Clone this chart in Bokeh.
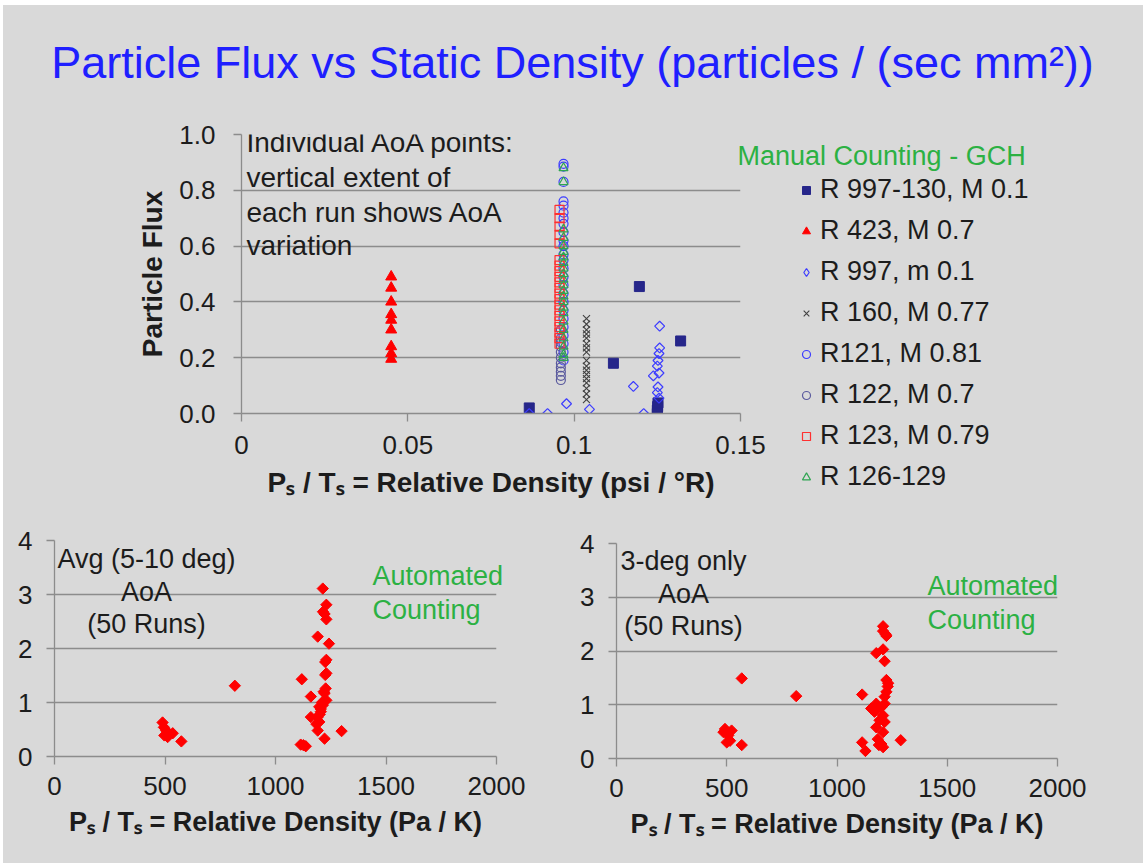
import math

from bokeh.embed import file_html
from bokeh.layouts import column, row
from bokeh.models import FixedTicker, Label, Legend, LegendItem, PrintfTickFormatter, Range1d
from bokeh.plotting import figure
from bokeh.resources import INLINE

# ---------------------------------------------------------------- styling
BG = "#d9d9d9"
GRID = "#8c8c8c"
INK = "#1c1c1c"
GREEN = "#2cb143"
TITLE_BLUE = "#1f1fff"
FONT = "Liberation Sans"

# ---------------------------------------------------------------- manual counting (psi / °R)
r997_130_x = [0.0865, 0.1118, 0.1196, 0.1320, 0.1250, 0.1250, 0.1251, 0.1252]
r997_130_y = [0.020, 0.180, 0.455, 0.260, 0.000, 0.012, 0.025, 0.038]

r423_x = [0.045, 0.045, 0.045, 0.045, 0.045, 0.045, 0.045, 0.045, 0.045]
r423_y = [0.49, 0.45, 0.40, 0.355, 0.335, 0.30, 0.24, 0.215, 0.195]

r997_x = [0.0865, 0.0920, 0.0977, 0.1046, 0.1178, 0.1209, 0.1257, 0.1257,
          0.1255, 0.1252, 0.1250, 0.1238, 0.1255, 0.1252, 0.1250, 0.1255]
r997_y = [0.000, 0.000, 0.035, 0.015, 0.097, 0.000, 0.313, 0.235,
          0.215, 0.190, 0.170, 0.135, 0.145, 0.095, 0.075, 0.055]

r160_x = [0.1037] * 17
r160_y = [0.34, 0.32, 0.30, 0.285, 0.27, 0.25, 0.235, 0.22, 0.19,
          0.17, 0.155, 0.14, 0.125, 0.11, 0.09, 0.07, 0.05]

r121_x = [0.0968] * 25
r121_y = [0.895, 0.885, 0.83, 0.76, 0.745, 0.72, 0.70, 0.68, 0.65, 0.62,
          0.60, 0.57, 0.55, 0.52, 0.49, 0.46, 0.43, 0.40, 0.37, 0.34,
          0.31, 0.28, 0.25, 0.22, 0.19]

r122_x = [0.0960] * 11
r122_y = [0.30, 0.27, 0.255, 0.24, 0.22, 0.20, 0.18, 0.165, 0.15, 0.135, 0.12]

r123_x = [0.0956] * 21
r123_y = [0.73, 0.70, 0.67, 0.64, 0.61, 0.55, 0.53, 0.51, 0.49, 0.47, 0.45,
          0.43, 0.41, 0.39, 0.37, 0.35, 0.33, 0.31, 0.29, 0.27, 0.25]

r126_129_x = [0.0968] * 23
r126_129_y = [0.88, 0.83, 0.66, 0.63, 0.60, 0.58, 0.56, 0.54, 0.52, 0.50, 0.48,
              0.46, 0.44, 0.42, 0.40, 0.38, 0.36, 0.33, 0.30, 0.27, 0.24, 0.21, 0.20]

series_labels = ["R 997-130, M 0.1", "R 423, M 0.7", "R 997, m 0.1", "R 160, M 0.77",
                 "R121, M 0.81", "R 122, M 0.7", "R 123, M 0.79", "R 126-129"]

top_x_ticks = [0, 0.05, 0.1, 0.15]
top_x_labels = ["0", "0.05", "0.1", "0.15"]
top_y_ticks = [0, 0.2, 0.4, 0.6, 0.8, 1.0]

# ---------------------------------------------------------------- automated counting (Pa / K)
avg_x = [1214, 1230, 1222, 1230, 1191, 1242, 1230, 1230, 1225, 1119, 816, 1227,
         1222, 1160, 1230, 1214, 1198, 1205, 1191, 1160, 1198, 1191, 1299, 1222,
         1114, 1137, 1210, 1218, 1205, 1185, 1225, 1215, 1200, 1126,
         489, 495, 505, 520, 512, 497, 535, 574]
avg_y = [3.11, 2.81, 2.64, 2.54, 2.22, 2.09, 1.79, 1.54, 1.51, 1.43, 1.31, 1.26,
         1.17, 1.11, 1.04, 0.95, 0.92, 0.83, 0.73, 0.73, 0.64, 0.48, 0.47, 0.33,
         0.22, 0.19, 1.00, 1.20, 0.88, 0.60, 1.75, 2.68, 0.78, 0.21,
         0.63, 0.54, 0.48, 0.42, 0.36, 0.39, 0.43, 0.28]

deg3_x = [1209, 1209, 1221, 1224, 1209, 1178, 1216, 1224, 1230, 1224, 1216, 1114,
          815, 568, 1216, 1178, 1155, 1170, 1209, 1193, 1216, 1178, 1209, 1185,
          1289, 1201, 1209, 1114, 1129, 1200, 1232, 1190,
          492, 522, 507, 515, 500, 568, 485]
deg3_y = [2.46, 2.37, 2.31, 2.28, 2.03, 1.96, 1.81, 1.46, 1.34, 1.24, 1.15, 1.19,
          1.16, 1.49, 1.02, 1.02, 0.93, 0.87, 0.80, 0.71, 0.68, 0.58, 0.49, 0.36,
          0.34, 0.27, 0.21, 0.30, 0.14, 0.95, 1.40, 0.25,
          0.55, 0.52, 0.43, 0.33, 0.30, 0.25, 0.49]

bottom_x_ticks = [0, 500, 1000, 1500, 2000]
bottom_y_ticks = [0, 1, 2, 3, 4]

DIAMOND = math.pi / 4

# marker styles for the eight manually counted runs
series_styles = [
    dict(marker="square", size=10, fill_color="#26268a", line_color="#26268a"),
    dict(marker="triangle", size=11, fill_color="#ff0000", line_color="#ff0000"),
    dict(marker="square", angle=DIAMOND, size=7, fill_color=None, line_color="#3c3cff", line_width=1.2),
    dict(marker="x", size=10, line_color="#404040", line_width=1.1),
    dict(marker="circle", size=9, fill_color=None, line_color="#3c3cff", line_width=1.2),
    dict(marker="circle", size=9, fill_color=None, line_color="#5a5a9e", line_width=1.2),
    dict(marker="square", size=9, fill_color=None, line_color="#ff3030", line_width=1.2),
    dict(marker="triangle", size=9, fill_color=None, line_color="#2fa552", line_width=1.2),
]
# legend swatches ignore the marker angle, so the open diamond uses the diamond marker there
swatch_styles = [dict(st) for st in series_styles]
swatch_styles[2] = dict(marker="diamond", size=9, fill_color=None, line_color="#3c3cff", line_width=1.2)


def style_axes(p, tick_font, label_font, x_stand, y_stand, x_label_stand, y_label_stand):
    for ax in (p.xaxis[0], p.yaxis[0]):
        ax.axis_line_color = GRID
        ax.axis_line_width = 1.3
        ax.major_tick_line_color = GRID
        ax.major_tick_line_width = 1.3
        ax.minor_tick_line_color = None
        ax.major_tick_in = 0
        ax.major_tick_out = 8
        ax.major_label_text_font = FONT
        ax.major_label_text_font_size = tick_font
        ax.major_label_text_color = INK
        ax.axis_label_text_font = FONT
        ax.axis_label_text_font_size = label_font
        ax.axis_label_text_font_style = "bold"
        ax.axis_label_text_color = INK
    p.xaxis[0].major_label_standoff = x_stand
    p.yaxis[0].major_label_standoff = y_stand
    p.xaxis[0].axis_label_standoff = x_label_stand
    p.yaxis[0].axis_label_standoff = y_label_stand
    p.xgrid.visible = False
    p.ygrid.grid_line_color = GRID
    p.ygrid.grid_line_width = 1.3


def text(p, x, y, s, size, color=INK, align="left", style="normal"):
    p.add_layout(Label(x=x, y=y, text=s, text_font=FONT, text_font_size=size,
                       text_color=color, text_align=align, text_baseline="middle",
                       text_font_style=style))


# ---------------------------------------------------------------- top panel
top = figure(width=1140, height=515, x_range=Range1d(0, 0.15), y_range=Range1d(0, 1.0),
             output_backend="svg", toolbar_location=None,
             min_border_left=238, min_border_right=403, min_border_top=129,
             min_border_bottom=107, background_fill_color=BG, border_fill_color=BG,
             outline_line_color=None, frame_align=False)
top.xaxis.ticker = FixedTicker(ticks=top_x_ticks)
top.xaxis.major_label_overrides = dict(zip(top_x_ticks, top_x_labels))
top.yaxis.ticker = FixedTicker(ticks=top_y_ticks)
top.ygrid.ticker = FixedTicker(ticks=top_y_ticks)
top.yaxis.formatter = PrintfTickFormatter(format="%.1f")
top.xaxis.axis_label = "Pₛ / Tₛ = Relative Density (psi / °R)"
top.yaxis.axis_label = "Particle Flux"
style_axes(top, "26px", "28px", 14, 18, 10, 8)

series_xy = [(r997_130_x, r997_130_y), (r423_x, r423_y), (r997_x, r997_y), (r160_x, r160_y),
             (r121_x, r121_y), (r122_x, r122_y), (r123_x, r123_y), (r126_129_x, r126_129_y)]
for (xs, ys), st in zip(series_xy, series_styles):
    top.scatter(xs, ys, **st)

note_lines = ["Individual AoA points:", "vertical extent of", "each run shows AoA", "variation"]
for line, yv in zip(note_lines, [0.971, 0.845, 0.719, 0.601]):
    text(top, 0.0015, yv, line, "28px")


# ---------------------------------------------------------------- bottom panels
def bottom_panel(xs, ys, width, left, right, top_b, bottom_b, note, note_x, note_ys):
    p = figure(width=width, height=343, x_range=Range1d(0, 2000), y_range=Range1d(0, 4),
               output_backend="svg", toolbar_location=None,
               min_border_left=left, min_border_right=right, min_border_top=top_b,
               min_border_bottom=bottom_b, background_fill_color=BG, border_fill_color=BG,
               outline_line_color=None, frame_align=False)
    p.xaxis.ticker = FixedTicker(ticks=bottom_x_ticks)
    p.yaxis.ticker = FixedTicker(ticks=bottom_y_ticks)
    p.ygrid.ticker = FixedTicker(ticks=bottom_y_ticks)
    p.xaxis.axis_label = "Pₛ / Tₛ = Relative Density (Pa / K)"
    style_axes(p, "26px", "27px", 12, 14, 9, 0)
    p.scatter(xs, ys, marker="square", angle=DIAMOND, size=8,
              fill_color="#ff0000", line_color="#ff0000")
    for line, yv in zip(note, note_ys):
        text(p, note_x, yv, line, "27px", align="center")
    return p


left_panel = bottom_panel(avg_x, avg_y, 568, 51, 75, 20, 107,
                          ["Avg (5-10 deg)", "AoA", "(50 Runs)"], 416, [3.66, 3.05, 2.45])
right_panel = bottom_panel(deg3_x, deg3_y, 572, 45, 86, 23, 105,
                           ["3-deg only", "AoA", "(50 Runs)"], 304, [3.68, 3.06, 2.46])

# ---------------------------------------------------------------- overlay: title, legend, captions
# A transparent full-page figure whose frame is measured in page pixels (y downward),
# so texts that sit outside the panels' data frames are not clipped.
over = figure(width=1140, height=858, x_range=Range1d(3, 1143), y_range=Range1d(863, 5),
              output_backend="svg", toolbar_location=None, x_axis_type=None, y_axis_type=None,
              min_border=0, background_fill_alpha=0, border_fill_alpha=0,
              outline_line_color=None, frame_align=False, margin=(-858, 0, 0, 0))
over.xgrid.visible = False
over.ygrid.visible = False

# legend swatches: one undrawn (NaN) point per series, styled like the series above
nan = float("nan")
swatches = [over.scatter([nan], [nan], **st) for st in swatch_styles]
legend = Legend(items=[LegendItem(label=lab, renderers=[r]) for lab, r in zip(series_labels, swatches)],
                location=(793, 371), background_fill_alpha=0, border_line_alpha=0,
                padding=0, margin=0, spacing=10, glyph_width=20, glyph_height=22,
                label_height=20, label_standoff=4, label_text_font=FONT,
                label_text_font_size="27px", label_text_color=INK)
over.add_layout(legend)

text(over, 572, 62, "Particle Flux vs Static Density (particles / (sec mm²))",
     "45px", TITLE_BLUE, align="center")
text(over, 737, 155, "Manual Counting - GCH", "27px", GREEN)
for line, yv in zip(["Automated", "Counting"], [575, 609]):
    text(over, 372, yv, line, "27px", GREEN)
for line, yv in zip(["Automated", "Counting"], [585, 619]):
    text(over, 927, yv, line, "27px", GREEN)

page = column(top, row(left_panel, right_panel, spacing=0), over,
              spacing=0, margin=(5, 0, 0, 3), styles={"background-color": BG})

with open("out.html", "w") as f:
    f.write(file_html(page, INLINE))
